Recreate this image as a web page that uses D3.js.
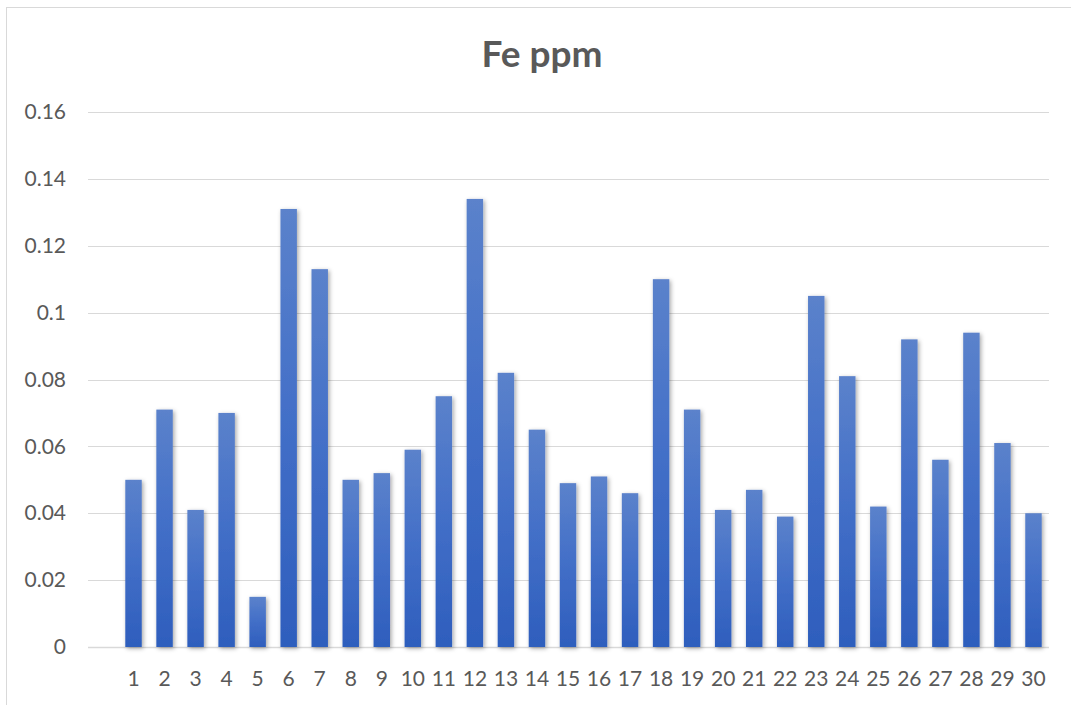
<!DOCTYPE html>
<html><head><meta charset="utf-8">
<script src="https://cdn.jsdelivr.net/npm/d3@7"></script>
<style>body{margin:0;background:#fff}svg{display:block}</style>
</head><body>
<svg id="chart" width="1071" height="705"></svg>
<script>
const categories = d3.range(1, 31).map(String);
const values = [0.050,0.071,0.041,0.070,0.015,0.131,0.113,0.050,0.052,0.059,
                0.075,0.134,0.082,0.065,0.049,0.051,0.046,0.110,0.071,0.041,
                0.047,0.039,0.105,0.081,0.042,0.092,0.056,0.094,0.061,0.040];
const yTicks = [0,0.02,0.04,0.06,0.08,0.1,0.12,0.14,0.16];
const title = "Fe ppm";

const svg = d3.select("#chart");
const font = "Lato, 'Open Sans', sans-serif";

// chart border
svg.append("rect").attr("x",6.5).attr("y",7.5).attr("width",1080).attr("height",720)
  .attr("fill","#fff").attr("stroke","#d9d9d9").attr("stroke-width",1);

const defs = svg.append("defs");
const grad = defs.append("linearGradient").attr("id","barGrad")
  .attr("x1",0).attr("y1",0).attr("x2",0).attr("y2",1);
grad.append("stop").attr("offset","0%").attr("stop-color","#5b82cb");
grad.append("stop").attr("offset","45%").attr("stop-color","#4470c8");
grad.append("stop").attr("offset","100%").attr("stop-color","#2e5ebd");
const f = defs.append("filter").attr("id","shadow").attr("x","-50%").attr("y","-10%").attr("width","200%").attr("height","130%");
f.append("feDropShadow").attr("dx",1.5).attr("dy",1.5).attr("stdDeviation",2.2)
  .attr("flood-color","#000").attr("flood-opacity",0.35);

const x = d3.scaleBand().domain(categories).range([118, 1049]).paddingInner(0.47).paddingOuter(0.235);
const y = d3.scaleLinear().domain([0, 0.16]).range([647, 112]);

// gridlines
svg.append("g").selectAll("line").data(yTicks).join("line")
  .attr("x1",88).attr("x2",1049)
  .attr("y1",d=>Math.round(y(d))+0.5).attr("y2",d=>Math.round(y(d))+0.5)
  .attr("stroke","#d9d9d9").attr("stroke-width",d=>d===0?1.5:1);

// y axis labels
const yAxis = d3.axisLeft(y).tickValues(yTicks).tickFormat(d=>String(d)).tickSize(0).tickPadding(0);
const gy = svg.append("g").attr("transform","translate(66,0)").call(yAxis);
gy.select(".domain").remove();
gy.selectAll("text").attr("font-family",font).attr("font-size",21).attr("fill","#595959");

// bars
svg.append("g").selectAll("rect").data(values).join("rect")
  .attr("x",(d,i)=>x(categories[i]))
  .attr("width",x.bandwidth())
  .attr("y",d=>y(d))
  .attr("height",d=>y(0)-y(d))
  .attr("fill","url(#barGrad)")
  .attr("filter","url(#shadow)");

// x axis labels
const xAxis = d3.axisBottom(x).tickSize(0).tickPadding(0);
const gx = svg.append("g").attr("transform","translate(0,671)").call(xAxis);
gx.select(".domain").remove();
gx.selectAll("text").attr("font-family",font).attr("font-size",21).attr("fill","#595959");

// title
svg.append("text").attr("x",542).attr("y",67).attr("text-anchor","middle")
  .attr("font-family",font).attr("font-weight","bold").attr("font-size",37)
  .attr("fill","#595959").text(title);
</script>
</body></html>
